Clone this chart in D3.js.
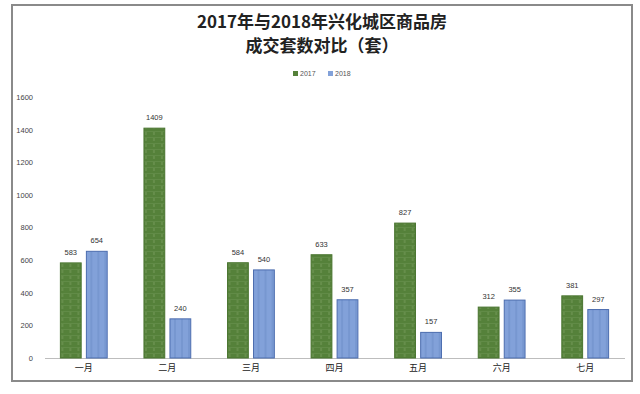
<!DOCTYPE html>
<html>
<head>
<meta charset="utf-8">
<script src="https://cdn.jsdelivr.net/npm/d3@7"></script>
<style>
  body { margin: 0; background: #fff; }
  svg { display: block; }
</style>
</head>
<body>
<svg id="chart" width="640" height="394"></svg>
<script>
// chart values
var months = ['一月', '二月', '三月', '四月', '五月', '六月', '七月'];
var seriesNames = ['2017', '2018'];
var values2017 = [583, 1409, 584, 633, 827, 312, 381];
var values2018 = [654, 240, 540, 357, 157, 355, 297];
var yTicks = [0, 200, 400, 600, 800, 1000, 1200, 1400, 1600];

(function () {
  'use strict';

  var svg = d3.select('#chart');
  var colors = { '2017': '#55813a', '2018': '#82a1d9' };
  var strokes = { '2017': '#4a7530', '2018': '#4b6cae' };

  // textures that look like the scanned bars
  var defs = svg.append('defs');
  var pg = defs.append('pattern').attr('id', 'pat2017')
    .attr('patternUnits', 'userSpaceOnUse').attr('width', 8).attr('height', 6);
  pg.append('rect').attr('width', 8).attr('height', 6).attr('fill', colors['2017']);
  pg.append('line').attr('x1', 2).attr('y1', 0).attr('x2', 2).attr('y2', 3)
    .attr('stroke', '#7fa263').attr('stroke-width', 0.8);
  pg.append('line').attr('x1', 0).attr('y1', 5.5).attr('x2', 8).attr('y2', 5.5)
    .attr('stroke', '#6a9250').attr('stroke-width', 0.6);
  var pb = defs.append('pattern').attr('id', 'pat2018')
    .attr('patternUnits', 'userSpaceOnUse').attr('width', 7).attr('height', 6);
  pb.append('rect').attr('width', 7).attr('height', 6).attr('fill', colors['2018']);
  pb.append('line').attr('x1', 3).attr('y1', 0).attr('x2', 3).attr('y2', 6)
    .attr('stroke', '#6282c0').attr('stroke-width', 0.7);

  // outer frame
  svg.append('rect')
    .attr('x', 12).attr('y', 5).attr('width', 620).attr('height', 376)
    .attr('fill', 'none').attr('stroke', '#8a8a8a').attr('stroke-width', 2);

  // title
  var title = svg.append('text')
    .attr('text-anchor', 'middle')
    .style('font-family', '"Noto Sans CJK SC", sans-serif')
    .style('font-weight', 'bold')
    .style('font-size', '17px')
    .attr('fill', '#222');
  title.append('tspan').attr('x', 322).attr('y', 28).text('2017年与2018年兴化城区商品房');
  title.append('tspan').attr('x', 322).attr('y', 52).text('成交套数对比（套）');

  // legend
  var legend = svg.append('g').attr('transform', 'translate(293,74)');
  seriesNames.forEach(function (name, i) {
    var g = legend.append('g').attr('transform', 'translate(' + (i * 35) + ',0)');
    g.append('rect').attr('x', 0).attr('y', -3).attr('width', 5).attr('height', 5)
      .attr('fill', colors[name]);
    g.append('text').attr('x', 7).attr('y', 2)
      .style('font-family', '"Liberation Sans", sans-serif')
      .style('font-size', '7px').attr('fill', '#555').text(name);
  });

  var x0 = d3.scaleBand().domain(months).range([42, 627]).paddingInner(0.44).paddingOuter(0.22);
  var x1 = d3.scaleBand().domain(seriesNames).range([0, x0.bandwidth()]).paddingInner(0.2);
  var y = d3.scaleLinear().domain([0, 1600]).range([358, 97]);

  // y axis
  var yAxis = svg.append('g').attr('transform', 'translate(35,0)')
    .call(d3.axisLeft(y).tickValues(yTicks).tickFormat(d3.format('d')).tickSize(0).tickPadding(2));
  yAxis.select('.domain').remove();
  yAxis.selectAll('text')
    .style('font-family', '"Liberation Sans", sans-serif')
    .style('font-size', '7.5px').attr('fill', '#444');

  // x axis
  var xAxis = svg.append('g').attr('transform', 'translate(0,' + y(0) + ')')
    .call(d3.axisBottom(x0).tickSize(0).tickPadding(7));
  xAxis.select('.domain').attr('stroke', '#bdbdbd').attr('d', 'M45,0.5H625');
  xAxis.selectAll('text')
    .style('font-family', '"Noto Sans CJK SC", sans-serif')
    .style('font-size', '9px').attr('fill', '#222');

  var data = months.map(function (m, i) {
    return { month: m, items: [
      { name: '2017', value: values2017[i] },
      { name: '2018', value: values2018[i] }
    ] };
  });

  var groups = svg.append('g').selectAll('g').data(data).join('g')
    .attr('transform', function (d) { return 'translate(' + x0(d.month) + ',0)'; });

  groups.selectAll('rect').data(function (d) { return d.items; }).join('rect')
    .attr('x', function (d) { return x1(d.name); })
    .attr('y', function (d) { return y(d.value); })
    .attr('width', x1.bandwidth())
    .attr('height', function (d) { return y(0) - y(d.value); })
    .attr('fill', function (d) { return 'url(#pat' + d.name + ')'; })
    .attr('stroke', function (d) { return strokes[d.name]; })
    .attr('stroke-width', 1);

  groups.selectAll('text.val').data(function (d) { return d.items; }).join('text')
    .attr('class', 'val')
    .attr('x', function (d) { return x1(d.name) + x1.bandwidth() / 2; })
    .attr('y', function (d) { return y(d.value) - 8; })
    .attr('text-anchor', 'middle')
    .style('font-family', '"Liberation Sans", sans-serif')
    .style('font-size', '7.5px')
    .attr('fill', '#333')
    .text(function (d) { return d.value; });
})();
</script>
</body>
</html>
